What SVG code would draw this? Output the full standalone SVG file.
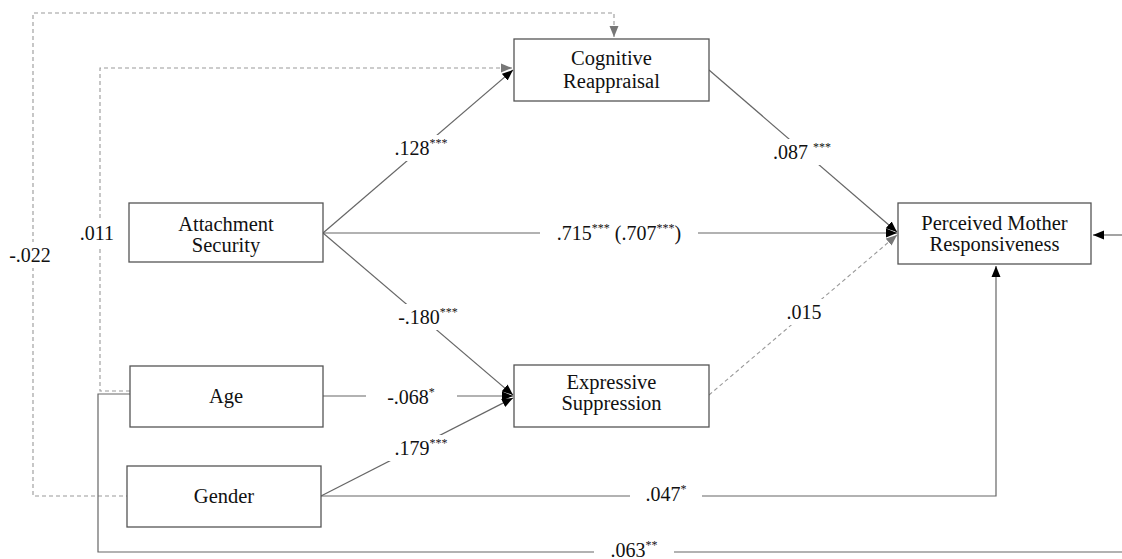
<svg xmlns="http://www.w3.org/2000/svg" width="1122" height="559" viewBox="0 0 1122 559">
<style>
.box{fill:#fff;stroke:#555;stroke-width:1.3}
.t{font-family:"Liberation Serif",Tinos,"Times New Roman","Noto Serif","DejaVu Serif",serif;font-size:20.5px;fill:#111;text-anchor:middle}
.lab{font-family:"Liberation Serif",Tinos,"Times New Roman","Noto Serif","DejaVu Serif",serif;font-size:20px;fill:#111;text-anchor:middle}
.sup{font-size:12px}
.ln{fill:none;stroke:#666;stroke-width:1.2}
.da{fill:none;stroke:#999;stroke-width:1.1;stroke-dasharray:4,3}
.bg{fill:#fff}
</style>
<defs>
<marker id="ab" markerUnits="userSpaceOnUse" markerWidth="12" markerHeight="10" refX="11" refY="5" orient="auto">
<path d="M0,0.5 L11,5 L0,9.5 z" fill="#000"/>
</marker>
<marker id="ag" markerUnits="userSpaceOnUse" markerWidth="12" markerHeight="10" refX="11" refY="5" orient="auto">
<path d="M0,0.5 L11,5 L0,9.5 z" fill="#777"/>
</marker>
</defs>
<g id="connectors">
<path class="da" d="M130,496 H33 V13 H614 V37" marker-end="url(#ag)"/>
<path class="da" d="M130,391 H100 V68 H512" marker-end="url(#ag)"/>
<path class="ln" d="M323,233 L513,70" marker-end="url(#ab)"/>
<path class="ln" d="M709,70 L897,232" marker-end="url(#ab)"/>
<path class="ln" d="M323,233 H897" marker-end="url(#ab)"/>
<path class="ln" d="M323,233 L513,395" marker-end="url(#ab)"/>
<path class="da" d="M709,395 L897,235" marker-end="url(#ag)"/>
<path class="ln" d="M323,396 H513" marker-end="url(#ab)"/>
<path class="ln" d="M321,496 L513,398" marker-end="url(#ab)"/>
<path class="ln" d="M321,496 H996 V266" marker-end="url(#ab)"/>
<path class="ln" d="M130,394 H98 V552 H1122"/>
<path class="ln" d="M1122,235 H1093" marker-end="url(#ab)"/>
<g id="labels">
<rect class="bg" x="389" y="135" width="66" height="26"/>
<text class="lab" x="421" y="155">.128<tspan class="sup" dy="-8">***</tspan></text>
<rect class="bg" x="764" y="139" width="78" height="26"/>
<text class="lab" x="802" y="159">.087 <tspan class="sup" dy="-8">***</tspan></text>
<rect class="bg" x="540" y="220" width="158" height="26"/>
<text class="lab" x="619" y="240">.715<tspan class="sup" dy="-8">***</tspan><tspan dy="8"> (.707</tspan><tspan class="sup" dy="-8">***</tspan><tspan dy="8">)</tspan></text>
<rect class="bg" x="391" y="304" width="74" height="26"/>
<text class="lab" x="428" y="324">-.180<tspan class="sup" dy="-8">***</tspan></text>
<rect class="bg" x="778" y="299" width="54" height="26"/>
<text class="lab" x="804" y="319">.015</text>
<rect class="bg" x="366" y="384" width="91" height="26"/>
<text class="lab" x="411" y="404">-.068<tspan class="sup" dy="-8">*</tspan></text>
<rect class="bg" x="385" y="435" width="74" height="26"/>
<text class="lab" x="421" y="455">.179<tspan class="sup" dy="-8">***</tspan></text>
<rect class="bg" x="630" y="481" width="72" height="26"/>
<text class="lab" x="666" y="501">.047<tspan class="sup" dy="-8">*</tspan></text>
<rect class="bg" x="594" y="540" width="80" height="19"/>
<text class="lab" x="634" y="557">.063<tspan class="sup" dy="-8">**</tspan></text>
<rect class="bg" x="76" y="220" width="42" height="26"/>
<text class="lab" x="97" y="240">.011</text>
<rect class="bg" x="4" y="242" width="52" height="26"/>
<text class="lab" x="30" y="262">-.022</text>
</g>
</g>
<g id="cognitive-reappraisal">
<rect class="box" x="514" y="39" width="195" height="62"/>
<text class="t" x="611.5" y="65">Cognitive</text>
<text class="t" x="611.5" y="88">Reappraisal</text>
</g>
<g id="attachment-security">
<rect class="box" x="129" y="203" width="194" height="59"/>
<text class="t" x="226" y="231">Attachment</text>
<text class="t" x="226" y="252">Security</text>
</g>
<g id="perceived-mother-responsiveness">
<rect class="box" x="898" y="203" width="193" height="61"/>
<text class="t" x="994.5" y="230">Perceived Mother</text>
<text class="t" x="994.5" y="251">Responsiveness</text>
</g>
<g id="expressive-suppression">
<rect class="box" x="514" y="365" width="195" height="62"/>
<text class="t" x="611.5" y="389">Expressive</text>
<text class="t" x="611.5" y="410">Suppression</text>
</g>
<g id="age">
<rect class="box" x="130" y="366" width="193" height="61"/>
<text class="t" x="226" y="403">Age</text>
</g>
<g id="gender">
<rect class="box" x="127" y="466" width="194" height="61"/>
<text class="t" x="224" y="503">Gender</text>
</g>
</svg>
